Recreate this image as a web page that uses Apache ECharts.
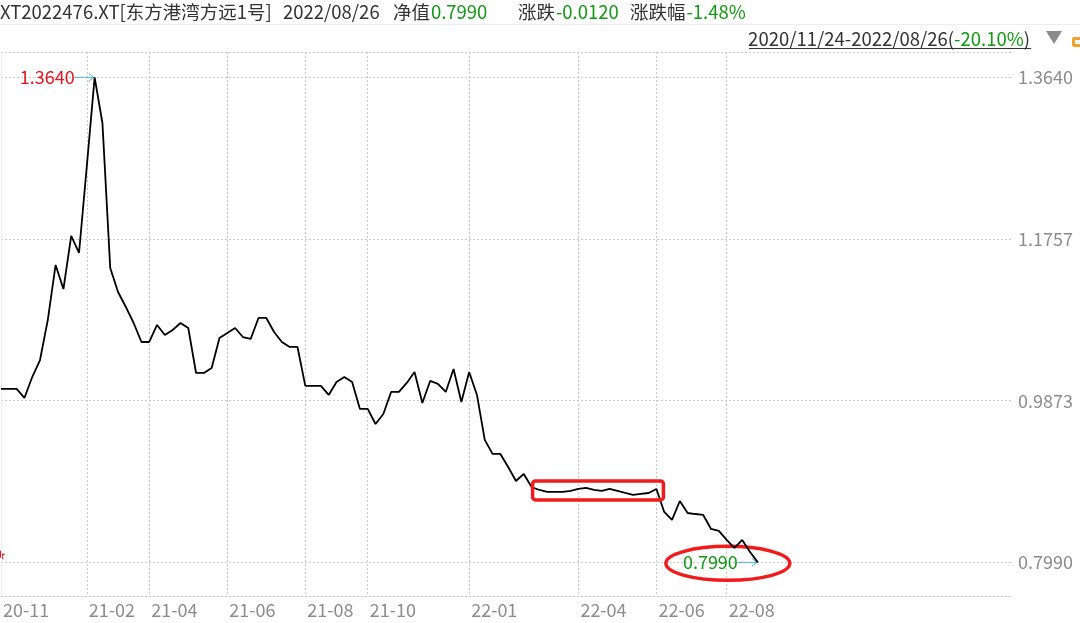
<!DOCTYPE html>
<html><head><meta charset="utf-8">
<script src="https://cdn.jsdelivr.net/npm/echarts@6/dist/echarts.min.js"></script>
<style>html,body{margin:0;padding:0;background:#fff}#c{width:1080px;height:623px}</style>
</head><body><div id="c"></div>
<script>
// ---- data ----
const navValues = [
 1.0010, 1.0010, 1.0010, 0.9905, 1.0149, 1.0347, 1.0815, 1.1454, 1.1174, 1.1792,
 1.1594, 1.2607, 1.3640, 1.3108, 1.1419, 1.1139, 1.0965, 1.0778, 1.0557, 1.0557,
 1.0755, 1.0639, 1.0697, 1.0778, 1.0720, 1.0196, 1.0196, 1.0254, 1.0604, 1.0662,
 1.0720, 1.0615, 1.0592, 1.0837, 1.0837, 1.0674, 1.0557, 1.0499, 1.0499, 1.0045,
 1.0045, 1.0045, 0.9940, 1.0091, 1.0149, 1.0091, 0.9777, 0.9777, 0.9602, 0.9718,
 0.9975, 0.9975, 1.0080, 1.0208, 0.9847, 1.0103, 1.0068, 0.9975, 1.0243, 0.9858,
 1.0208, 0.9940, 0.9416, 0.9253, 0.9253, 0.9101, 0.8938, 0.9020, 0.8868, 0.8833,
 0.8810, 0.8810, 0.8810, 0.8822, 0.8845, 0.8857, 0.8833, 0.8822, 0.8845, 0.8822,
 0.8798, 0.8775, 0.8787, 0.8798, 0.8845, 0.8577, 0.8484, 0.8705, 0.8565, 0.8553,
 0.8542, 0.8379, 0.8356, 0.8251, 0.8158, 0.8251, 0.8110, 0.7990
];
const xTickIndex  = [0, 11, 19, 29, 39, 47, 60, 74, 84, 93];
const xTickLabels = ['20-11','21-02','21-04','21-06','21-08','21-10','22-01','22-04','22-06','22-08'];
const yTickValues = [0.7990, 0.9873, 1.1757, 1.3640];
const highlightRange = [68, 84];

const headerCode = 'XT2022476.XT[东方港湾方远1号]';
const headerDate = '2022/08/26';
const navLabel = '净值', navLatest = '0.7990';
const chgLabel = '涨跌', chgValue = '-0.0120';
const pctLabel = '涨跌幅', pctValue = '-1.48%';
const rangeText = '2020/11/24-2022/08/26', rangePct = '-20.10%';

// ---- chart ----
const FONT = '"Noto Sans CJK SC", "Noto Sans", sans-serif';
const GREEN = '#129a12', RED = '#e8141b', GRAY = '#8c8c8c', ARROW = '#5aaed6';
const yMin = 0.7598, yMax = 1.3935, xMax = 129.7;
const HF = '18.5px ' + FONT;

const chart = echarts.init(document.getElementById('c'));
const option = {
  animation: false,
  backgroundColor: '#fff',
  grid: { left: 1, right: 67, top: 52, bottom: 27 },
  xAxis: {
    type: 'value', min: 0, max: xMax,
    axisLine: { show: true, onZero: false, lineStyle: { color: '#c8c8c8', type: [2, 2] } },
    axisTick: { show: false, customValues: xTickIndex },
    axisLabel: {
      customValues: xTickIndex,
      formatter: v => xTickLabels[xTickIndex.indexOf(v)] || '',
      color: GRAY, fontSize: 18, fontFamily: FONT, align: 'left', margin: 5, padding: [0, 0, 0, 2]
    },
    splitLine: { show: true, lineStyle: { color: '#c8c8c8', type: [2, 2], width: 1 } }
  },
  yAxis: {
    type: 'value', position: 'right', min: yMin, max: yMax,
    axisLine: { show: true, lineStyle: { color: '#eeeeee' } },
    axisTick: { show: false, customValues: yTickValues.concat([yMax]) },
    axisLabel: {
      customValues: yTickValues,
      formatter: v => v.toFixed(4),
      color: GRAY, fontSize: 18, fontFamily: FONT, margin: 5
    },
    splitLine: { show: true, lineStyle: { color: '#c8c8c8', type: [2, 2], width: 1 } }
  },
  series: [{
    type: 'line',
    data: navValues.map((v, i) => [i, v]),
    showSymbol: false, symbol: 'none',
    lineStyle: { color: '#000', width: 1.8 },
    z: 5
  }]
};
chart.setOption(option);

function addAnnotations() {
  const P = i => chart.convertToPixel({ gridIndex: 0 }, [i, navValues[i]]);
  const g = [];
  // header
  const hy = 12;
  const txt = (x, y, rich, align) => ({
    type: 'text', x, y, silent: true,
    style: { text: rich, align: align || 'left', verticalAlign: 'middle', font: HF, fill: '#333',
      rich: { d: { fill: '#333', font: HF }, g: { fill: GREEN, font: HF }, s: { font: '4px ' + FONT } } }
  });
  g.push(txt(0, hy, '{d|' + headerCode + '}'));
  g.push(txt(283, hy, '{d|' + headerDate + '}'));
  g.push(txt(393, hy, '{d|' + navLabel + '}{s| }{g|' + navLatest + '}'));
  g.push(txt(518, hy, '{d|' + chgLabel + '}{s| }{g|' + chgValue + '}'));
  g.push(txt(630, hy, '{d|' + pctLabel + '}{s| }{g|' + pctValue + '}'));
  g.push({ type: 'line', silent: true, shape: { x1: 0, y1: 24.5, x2: 1080, y2: 24.5 }, style: { stroke: '#eeeeee', lineWidth: 1 } });
  g.push(txt(1030, 39, '{d|' + rangeText + '(}{g|' + rangePct + '}{d|)}', 'right'));
  g.push({ type: 'line', silent: true, shape: { x1: 749, y1: 48.5, x2: 1031, y2: 48.5 }, style: { stroke: '#333', lineWidth: 1 } });
  g.push({ type: 'polygon', silent: true, shape: { points: [[1046, 31], [1062, 31], [1054, 44]] }, style: { fill: '#8a8a8a' } });
  g.push({ type: 'rect', silent: true, shape: { x: 1072, y: 37, width: 10, height: 10, r: 2 }, style: { fill: '#f0a030' } });
  g.push({ type: 'rect', silent: true, shape: { x: 1075, y: 40, width: 5, height: 4 }, style: { fill: '#fff' } });

  // max annotation
  let peak = 0;
  navValues.forEach((v, i) => { if (v > navValues[peak]) peak = i; });
  const pk = P(peak);
  g.push({ type: 'text', silent: true, x: pk[0] - 20, y: pk[1], style: { text: navValues[peak].toFixed(4), align: 'right', verticalAlign: 'middle', font: '18px ' + FONT, fill: RED } });
  const arrow = (p) => [
    { type: 'line', silent: true, shape: { x1: p[0] - 20, y1: p[1], x2: p[0] - 1, y2: p[1] }, style: { stroke: ARROW, lineWidth: 1 } },
    { type: 'polyline', silent: true, shape: { points: [[p[0] - 6, p[1] - 4], [p[0] - 1, p[1]], [p[0] - 6, p[1] + 4]] }, style: { stroke: ARROW, lineWidth: 1, fill: null } }
  ];
  g.push(...arrow(pk));

  // last value annotation
  const last = navValues.length - 1;
  const lp = P(last);
  g.push({ type: 'text', silent: true, x: lp[0] - 20, y: lp[1], style: { text: navValues[last].toFixed(4), align: 'right', verticalAlign: 'middle', font: '18px ' + FONT, fill: GREEN } });
  g.push(...arrow(lp));
  g.push({ type: 'ellipse', silent: true, shape: { cx: lp[0] - 30, cy: lp[1] + 1, rx: 62, ry: 17 }, style: { stroke: '#f21a1a', lineWidth: 3.5, fill: null } });

  // highlight box
  const pts = [];
  for (let i = highlightRange[0]; i <= highlightRange[1]; i++) pts.push(P(i));
  const ys = pts.map(p => p[1]);
  const x0 = pts[0][0], x1 = pts[pts.length - 1][0];
  const top = Math.min(...ys) - 6, bot = Math.max(...ys) + 5;
  g.push({ type: 'rect', silent: true, z: 10, shape: { x: x0 + 1, y: top, width: x1 - x0 + 6, height: bot - top, r: 3 }, style: { stroke: '#f21a1a', lineWidth: 3.5, fill: null } });

  // small red star at left edge
  g.push({ type: 'text', silent: true, x: -5, y: 555, style: { text: '★', align: 'left', verticalAlign: 'middle', font: '11px ' + FONT, fill: RED } });

  chart.setOption({ graphic: g });
}
addAnnotations();
</script>
</body></html>
